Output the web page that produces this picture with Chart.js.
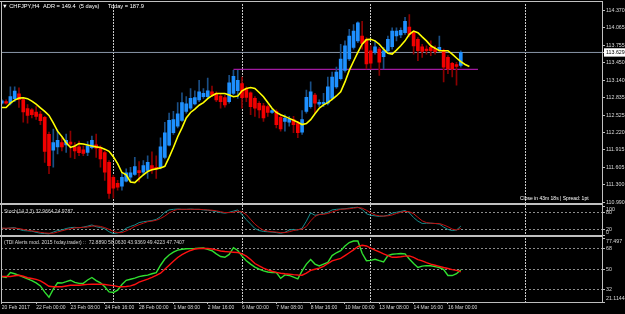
<!DOCTYPE html>
<html><head><meta charset="utf-8">
<script src="https://cdn.jsdelivr.net/npm/chart.js@4.4.1/dist/chart.umd.min.js"></script>
<style>
html,body{margin:0;padding:0;background:#000;}
#wrap{position:relative;width:625px;height:314px;overflow:hidden;background:#000;}
canvas{position:absolute;left:0;top:0;width:625px;height:314px;}
.ln{position:absolute;background:#c0c0c0;z-index:4;}
.tx{position:absolute;white-space:pre;transform:scale(0.5);transform-origin:0 0;font-family:"Liberation Sans",Arial,sans-serif;line-height:12px;z-index:5;}
</style></head><body>
<div id="wrap">
<canvas id="cMain" width="625" height="314"></canvas>
<canvas id="cSto" width="625" height="314"></canvas>
<canvas id="cTdi" width="625" height="314"></canvas>
<div class="ln" style="left:0;top:1px;width:603px;height:1px"></div>
<div class="ln" style="left:1px;top:1px;width:1px;height:301px"></div>
<div class="ln" style="left:602px;top:1px;width:1px;height:302px"></div>
<div class="ln" style="left:0;top:203px;width:603px;height:2px"></div>
<div class="ln" style="left:0;top:235px;width:603px;height:2px"></div>
<div class="tx" style="left:2px;top:2.7px;font-size:11.4px;color:#fff">▼ CHFJPY,H4</div>
<div class="tx" style="left:42.7px;top:2.7px;font-size:11.4px;color:#fff">ADR = 149.4  (5 days)</div>
<div class="tx" style="left:108px;top:2.7px;font-size:11.4px;color:#fff">Today = 187.9</div>
<div class="tx" style="left:520px;top:194.7px;font-size:10px;color:#fff">Close in 43m 18s | Spread: 1pt</div>
<div class="tx" style="left:4px;top:207.7px;font-size:10px;color:#d8d8d8">Stoch(14,3,3) 32.9664 24.9787</div>
<div class="tx" style="left:4px;top:239.3px;font-size:10px;color:#d8d8d8">(TDI Alerts mod. 2015 fxday.trader) ::  72.8890 58.0630 43.9369 49.4223 47.7407</div>
</div>
<script>
// ---------- data ----------
const timeLabels = ['20 Feb 2017','22 Feb 00:00','23 Feb 08:00','24 Feb 16:00','28 Feb 00:00','1 Mar 08:00','2 Mar 16:00','6 Mar 00:00','7 Mar 08:00','8 Mar 16:00','10 Mar 00:00','13 Mar 08:00','14 Mar 16:00','16 Mar 00:00'];
const timeLabelBar = [0,8,16,24,32,40,48,56,64,72,80,88,96,104];
const separatorBar = [26,56,86,122];
const priceTicks = [114.370,114.065,113.755,113.450,113.140,112.835,112.525,112.220,111.915,111.605,111.300,110.990];
const bidPrice = 113.629;
const levelPrice = 113.33, levelFromBar = 54, levelToBar = 111;
const stochTicks = [0,20,80,100];
const stochLevels = [20,80];
const tdiTicks = [21.1144,32,50,68,77.497];
const tdiLevels = [32,50,68];

const openP = [112.734,112.763,112.734,112.815,112.902,112.798,112.642,112.619,112.578,112.543,
112.486,112.186,111.909,111.966,112.040,112.000,112.052,111.966,111.966,111.914,
111.867,111.954,112.000,111.954,111.867,111.694,111.428,111.324,111.272,111.364,
111.434,111.480,111.550,111.520,111.550,111.636,111.607,111.607,111.780,111.995,
112.214,112.330,112.434,112.590,112.647,112.723,112.793,112.850,112.850,112.936,
112.907,112.862,112.832,112.763,112.907,112.954,113.080,112.994,112.919,112.820,
112.734,112.688,112.676,112.572,112.590,112.486,112.416,112.399,112.446,112.377,
112.226,112.590,112.676,112.879,112.716,112.723,112.734,112.820,113.023,113.167,
113.313,113.514,113.717,113.833,113.919,113.860,113.659,113.630,113.687,113.555,
113.659,113.729,113.919,113.937,113.976,114.075,113.994,113.860,113.729,113.687,
113.717,113.687,113.677,113.659,113.543,113.439,113.417,113.399];
const highP = [112.798,112.793,113.023,113.023,113.006,112.833,112.711,112.642,112.676,112.590,
112.503,112.226,112.278,112.260,112.127,112.191,112.243,112.040,112.070,111.983,
112.058,112.157,112.191,111.983,111.896,111.723,111.463,111.376,111.515,111.579,
111.607,111.780,111.706,111.723,111.810,111.879,111.810,112.127,112.399,112.560,
112.590,112.746,112.919,112.850,112.994,112.954,113.139,112.994,113.179,113.035,
112.936,112.907,112.879,113.226,113.313,113.313,113.196,113.023,112.936,112.850,
112.763,112.734,112.706,112.642,112.619,112.532,112.532,112.503,112.503,112.416,
112.607,112.966,113.110,112.907,112.793,112.907,113.196,113.283,113.370,113.774,
113.833,114.034,114.120,114.167,114.179,113.890,113.746,113.833,113.717,113.717,
113.919,114.063,114.063,114.063,114.249,114.294,114.006,113.890,113.774,113.746,
113.833,113.746,113.919,113.687,113.573,113.456,113.456,113.659];
const lowP = [112.720,112.716,112.706,112.763,112.659,112.399,112.382,112.474,112.451,112.359,
111.694,111.492,111.607,111.844,111.896,111.867,111.780,111.758,111.810,111.810,
111.810,111.931,111.780,111.607,111.376,111.059,111.064,111.203,111.203,111.347,
111.347,111.463,111.347,111.463,111.411,111.498,111.411,111.579,111.752,111.983,
112.186,112.300,112.416,112.560,112.619,112.706,112.763,112.820,112.820,112.850,
112.763,112.647,112.664,112.734,112.879,112.820,112.647,112.763,112.533,112.503,
112.474,112.416,112.503,112.555,112.300,112.243,112.243,112.330,112.214,112.127,
112.186,112.560,112.647,112.560,112.676,112.676,112.706,112.793,112.994,113.139,
113.283,113.486,113.687,113.803,113.687,113.340,113.340,113.600,113.226,113.340,
113.630,113.687,113.833,113.890,113.947,113.902,113.600,113.486,113.543,113.600,
113.573,113.600,113.659,113.110,113.254,113.196,113.053,113.370];
const closeP = [112.775,112.734,112.850,112.949,112.798,112.581,112.520,112.533,112.503,112.429,
111.884,111.636,112.040,112.082,111.966,112.082,112.013,111.896,111.862,111.850,
111.983,112.082,111.943,111.753,111.520,111.146,111.238,111.255,111.428,111.510,
111.510,111.619,111.510,111.636,111.694,111.567,111.579,111.966,112.214,112.434,
112.446,112.550,112.746,112.723,112.820,112.832,112.936,112.907,112.954,112.879,
112.793,112.763,112.706,113.093,113.209,113.139,112.832,112.838,112.676,112.647,
112.619,112.474,112.572,112.607,112.359,112.283,112.474,112.457,112.359,112.214,
112.446,112.838,112.936,112.734,112.751,112.751,113.023,113.196,113.283,113.514,
113.746,113.919,114.006,114.150,113.786,113.427,113.439,113.729,113.456,113.659,
113.860,114.006,114.006,114.017,114.179,113.947,113.746,113.659,113.647,113.659,
113.659,113.642,113.717,113.370,113.340,113.340,113.382,113.629];
const maLine = [112.659,112.659,112.737,112.789,112.824,112.832,112.815,112.772,112.720,112.654,
112.590,112.520,112.387,112.243,112.148,112.040,111.957,111.983,112.023,112.018,
112.000,111.983,111.966,111.954,111.926,111.888,111.792,111.671,111.515,111.475,
111.347,111.337,111.406,111.475,111.532,111.562,111.579,111.596,111.624,111.780,
111.954,112.144,112.300,112.474,112.572,112.630,112.699,112.746,112.815,112.867,
112.907,112.907,112.907,112.879,112.850,112.862,112.954,112.994,113.011,112.994,
112.924,112.850,112.746,112.647,112.572,112.532,112.503,112.468,112.434,112.399,
112.359,112.377,112.446,112.550,112.647,112.706,112.746,112.803,112.862,112.936,
113.110,113.313,113.474,113.630,113.774,113.855,113.860,113.833,113.774,113.687,
113.613,113.600,113.670,113.746,113.833,113.947,114.006,113.976,113.902,113.833,
113.746,113.704,113.659,113.659,113.659,113.600,113.531,113.468,113.417,113.382];
const stochMain = [26,25,27,28,22,18,17,16,12,9,
8,7,13,18,20,25,28,29,27,30,
33,37,31,28,24,14,8,10,15,26,
32,37,45,48,50,52,56,65,80,88,
90,91,90,90,91,90,90,88,87,85,
82,79,77,80,84,88,72,55,40,25,
18,15,14,13,11,9,12,20,22,20,
26,50,78,70,72,76,80,88,90,91,
92,94,96,97,90,75,70,68,66,67,
70,77,80,83,86,78,62,50,42,43,
43,42,40,30,22,18,20,33];
const stochSignal = [26,26,26,26,25,22,19,17,15,12,
10,9,9,13,17,21,24,27,28,29,
30,33,34,32,28,22,15,11,11,17,
24,32,38,43,48,50,53,59,67,78,
85,90,90,90,90,90,90,89,88,87,
85,82,79,79,80,84,81,72,56,40,
28,19,16,14,13,11,11,14,18,21,
23,32,51,66,73,73,76,81,86,90,
91,92,94,96,94,87,78,71,68,67,
68,71,76,80,83,82,75,63,51,45,
43,42,42,37,31,23,20,25];
const tdiGreen = [43.6,42.7,47,46,44.5,43,41.5,40,38,35.3,
29.8,25.3,32.4,38,37.8,39,40.3,38.4,37.5,37.5,
40.5,42.7,40,38,34.5,30,29.5,31.5,36.5,40.2,
41.2,42.2,43.5,44.2,44.8,46,47,53.5,59,62.5,
65,66.8,67.6,68,68.1,68.3,68.6,68.7,67.5,66.3,
63.5,61.2,60.5,63,69,66.5,61.5,57.5,54.5,51.8,
50,48.5,47.5,47.1,47.1,42,45,44.5,43,41.5,
48.5,54.5,58.5,54.5,52.9,54.5,56,62,64.5,66.3,
70.5,73.5,74.8,74.8,64,57.5,57.8,58.8,57.5,56.5,
62,63.2,63.5,63.8,63.5,59,55,51.6,52.7,53.2,
53,52.3,51.5,49.6,44.5,44.4,46,49.4];
const tdiRed = [43.6,43.6,43.6,44.2,44.7,43.8,42.5,41.8,41,39.7,
37.5,35,34.5,34.5,34.5,35.2,35.9,35.9,35.9,36.3,
36.6,36.8,36.8,36.8,36.5,36,35.5,34.8,34.5,34.8,
35.3,36.5,38.6,40,41.3,42.8,44.5,46.5,50,53.5,
57,60.3,62.8,64.8,66.5,67.8,68.3,68.3,68.2,67.8,
67,66.1,65.6,65.3,65,64.7,63.5,61.5,58.5,55,
52.9,51,49.4,48.2,47.2,46.5,46,45.6,45.2,44.9,
44.7,46.5,49,50,51,52.5,55,57.3,58.5,59.5,
62,64.5,67,70,71.1,70.5,68.5,66.9,65.2,63.5,
62,60.5,60.6,61,61.5,61.7,60.5,58.5,57.3,55.8,
54.5,53.5,52.5,51.5,50.6,49.6,49,47.7];

// ---------- config ----------
Chart.defaults.font.family = '"Liberation Sans", Arial, sans-serif';
const X_MIN = -0.19, X_MAX = 140.15;
const AXIS_W = 22;
const lblColor = '#d8d8d8';
const frameColor = '#bdbdbd';
const xy = arr => arr.map((v, i) => ({x: i, y: v}));

function xHidden() { return {type: 'linear', min: X_MIN, max: X_MAX, display: false, offset: false, grid: {offset: false}}; }
function xSep() {
  return {type: 'linear', min: X_MIN, max: X_MAX, position: 'top', offset: false,
    afterBuildTicks: s => { s.ticks = separatorBar.map(v => ({value: v})); },
    afterFit: s => { s.height = 0; },
    ticks: {display: false},
    grid: {drawTicks: false, color: '#c8c8c8', lineWidth: 1, offset: false},
    border: {display: false, dash: [2, 1]}};
}
function edgeLabel(v, i, t) {
  const s = String(v);
  if (i === 0) return [s, ''];
  if (i === t.length - 1) return ['', s];
  return s;
}
const base = {responsive: false, animation: false, events: [],
  plugins: {legend: {display: false}, tooltip: {enabled: false}, title: {display: false}}};

// main price chart
const bull = closeP.map((c, i) => c >= openP[i]);
new Chart(document.getElementById('cMain'), {
  type: 'bar',
  data: {datasets: [
    {type: 'line', data: xy(maLine), borderColor: '#ffff00', borderWidth: 1.6, pointRadius: 0, tension: 0, order: 0},
    {type: 'bar', data: openP.map((o, i) => ({x: i, y: [o, closeP[i]]})), backgroundColor: bull.map(b => b ? '#1e90ff' : '#f20000'),
      barThickness: 3, grouped: false, minBarLength: 1, borderWidth: 0, order: 1},
    {type: 'bar', data: lowP.map((l, i) => ({x: i, y: [l, highP[i]]})), backgroundColor: bull.map(b => b ? '#1a4f86' : '#8b0000'),
      barThickness: 1, grouped: false, borderWidth: 0, order: 2},
    {type: 'line', data: [{x: X_MIN, y: bidPrice}, {x: X_MAX, y: bidPrice}], borderColor: '#8a96a8', borderWidth: 1, pointRadius: 0, order: 5},
    {type: 'line', data: [{x: levelFromBar, y: levelPrice}, {x: levelToBar, y: levelPrice}], borderColor: '#a01aa0', borderWidth: 1.2, pointRadius: 0, order: 4}
  ]},
  options: Object.assign({}, base, {
    layout: {padding: {top: 1, bottom: 110, left: 1, right: 0}},
    scales: {
      x: xHidden(),
      xs: xSep(),
      y: {position: 'right', min: 110.96, max: 114.479, beginAtZero: false,
        afterFit: s => { s.width = AXIS_W; },
        afterBuildTicks: s => { s.ticks = priceTicks.concat([bidPrice]).map(v => ({value: v})); },
        ticks: {autoSkip: false, padding: 1, font: {size: 5.3},
          color: c => (c.tick && c.tick.value === bidPrice) ? '#000' : lblColor,
          showLabelBackdrop: true,
          backdropColor: c => (c.tick && c.tick.value === bidPrice) ? '#ffffff' : 'rgba(0,0,0,0)',
          backdropPadding: {top: 1, bottom: 1, left: 2, right: 3},
          callback: v => v.toFixed(3)},
        grid: {drawOnChartArea: false, tickLength: 2, tickColor: frameColor},
        border: {display: false}}
    }})
});

// stochastic
new Chart(document.getElementById('cSto'), {
  type: 'line',
  data: {datasets: [
    {data: xy(stochSignal), borderColor: '#c01010', borderWidth: 1, pointRadius: 0, tension: 0, order: 0},
    {data: xy(stochMain), borderColor: '#168c8c', borderWidth: 1, pointRadius: 0, tension: 0, order: 1}
  ]},
  options: Object.assign({}, base, {
    layout: {padding: {top: 205, bottom: 78, left: 1, right: 0}},
    scales: {
      x: xHidden(),
      xs: xSep(),
      y: {position: 'right', min: -0.4, max: 104.7,
        afterFit: s => { s.width = AXIS_W; },
        afterBuildTicks: s => { s.ticks = stochTicks.map(v => ({value: v})); },
        ticks: {autoSkip: false, padding: 1, font: {size: 5.3}, color: lblColor, callback: edgeLabel},
        grid: {color: c => (c.tick && stochLevels.includes(c.tick.value)) ? '#8c8c8c' : 'rgba(0,0,0,0)', tickLength: 2, tickColor: frameColor},
        border: {display: false, dash: [2, 2]}}
    }})
});

// TDI + time axis
new Chart(document.getElementById('cTdi'), {
  type: 'line',
  data: {datasets: [
    {data: xy(tdiRed), borderColor: '#ff1010', borderWidth: 1.4, pointRadius: 0, tension: 0, order: 0},
    {data: xy(tdiGreen), borderColor: '#30e030', borderWidth: 1.4, pointRadius: 0, tension: 0, order: 1}
  ]},
  options: Object.assign({}, base, {
    layout: {padding: {top: 238, bottom: 0, left: 1, right: 0}},
    scales: {
      x: {type: 'linear', min: X_MIN, max: X_MAX, position: 'bottom', offset: false,
        afterBuildTicks: s => { s.ticks = timeLabelBar.map(v => ({value: v})); },
        afterFit: s => { s.height = 12; },
        ticks: {autoSkip: false, maxRotation: 0, minRotation: 0, align: 'start', padding: 1, font: {size: 5}, color: lblColor,
          callback: (v, i) => timeLabels[i]},
        grid: {drawOnChartArea: false, tickLength: 2, tickColor: frameColor},
        border: {display: true, color: frameColor, width: 1}},
      xs: xSep(),
      y: {position: 'right', min: 21.1144, max: 77.497,
        afterFit: s => { s.width = AXIS_W; },
        afterBuildTicks: s => { s.ticks = tdiTicks.map(v => ({value: v})); },
        ticks: {autoSkip: false, padding: 1, font: {size: 5.3}, color: lblColor, callback: edgeLabel},
        grid: {color: c => (c.tick && tdiLevels.includes(c.tick.value)) ? '#8c8c8c' : 'rgba(0,0,0,0)', tickLength: 2, tickColor: frameColor},
        border: {display: false, dash: [2, 2]}}
    }})
});
</script>
</body></html>
